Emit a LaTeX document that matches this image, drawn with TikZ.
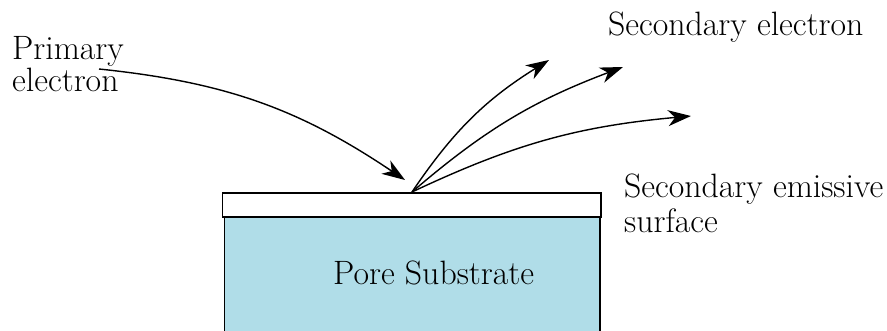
\documentclass[tikz,border=0pt]{standalone}
\usetikzlibrary{arrows.meta}
\definecolor{substrate}{RGB}{176,221,232}
\begin{document}
\begin{tikzpicture}[x=1pt,y=1pt,
  lbl/.style={anchor=base west,inner sep=0pt,font=\fontsize{33.8}{36}\selectfont},
  ray/.style={line width=1.4pt,-{Stealth[length=23pt,width=16pt,inset=7pt]}}]
\useasboundingbox (0,0) rectangle (887,330);
\begin{scope}
\clip (0,0) rectangle (887,330);
% substrate
\draw[line width=1.3pt,fill=substrate] (224.5,113) rectangle (600,-10);
% emissive surface
\draw[line width=1.3pt,fill=white] (222.5,137) rectangle (601,113);
\end{scope}
% coordinates
\coordinate (pstart) at (99,261);
\coordinate (ptip) at (405,150);
\coordinate (E) at (412,138);
\coordinate (s1) at (549,270);
\coordinate (s2) at (623,263);
\coordinate (s3) at (691,214);
% labels
\node[lbl] (prim1) at (12,270) {Primary};
\node[lbl] (prim2) at (12,238) {electron};
\node[lbl] (sec) at (608,294) {Secondary electron};
\node[lbl] (emi1) at (624,132) {Secondary emissive};
\node[lbl] (emi2) at (624,98) {surface};
\node[lbl] (pore) at (333,46) {Pore Substrate};
% arrows
\draw[ray] (pstart) to[bend left=14] (ptip);
\draw[ray] (E) to[bend left=12] (s1);
\draw[ray] (E) to[bend left=10] (s2);
\draw[ray] (E) to[bend left=10] (s3);
\end{tikzpicture}
\end{document}
